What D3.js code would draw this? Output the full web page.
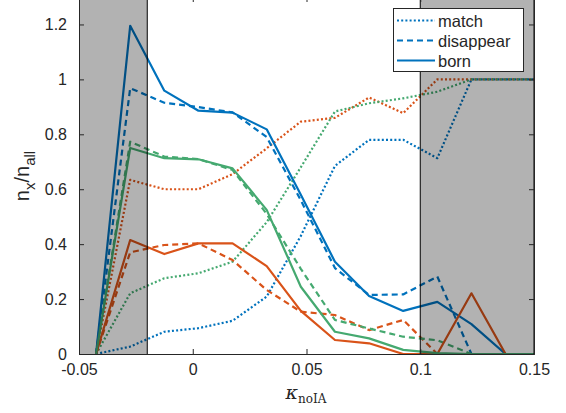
<!DOCTYPE html>
<html>
<head>
<meta charset="utf-8">
<script src="https://cdn.jsdelivr.net/npm/d3@7"></script>
<style>
body{margin:0;background:#fff}
text{font-family:"Liberation Sans",Arial,sans-serif;fill:#262626}
</style>
</head>
<body>
<div id="chart"></div>
<script>
var kappa = [-0.0425,-0.0275,-0.0125,0.0025,0.0175,0.0325,0.0475,0.0625,0.0775,0.0925,0.1075,0.1225,0.1375,0.1525]

var blueMatch       = [0,0.027,0.081,0.094,0.121,0.209,0.43,0.685,0.78,0.78,0.713,1,1,1]
var blueDisappear   = [0,0.968,0.915,0.899,0.88,0.79,0.56,0.313,0.215,0.217,0.282,0,0,0]
var blueBorn        = [0,1.195,0.959,0.886,0.879,0.818,0.58,0.336,0.211,0.157,0.19,0.109,0,0]
var orangeMatch     = [0,0.634,0.6,0.6,0.655,0.749,0.846,0.86,0.934,0.877,1,1,1,1]
var orangeDisappear = [0,0.37,0.397,0.403,0.342,0.233,0.154,0.142,0.087,0.124,0,0,0,0]
var orangeBorn      = [0,0.415,0.364,0.403,0.403,0.32,0.157,0.051,0.039,0,0,0.221,0,0]
var greenMatch      = [0,0.221,0.276,0.294,0.336,0.48,0.68,0.883,0.913,0.931,0.955,1,1,1]
var greenDisappear  = [0,0.773,0.719,0.71,0.67,0.51,0.31,0.124,0.093,0.063,0.05,0,0,0]
var greenBorn       = [0,0.75,0.713,0.709,0.676,0.525,0.245,0.081,0.057,0.015,0.003,0,0,0]

var xTicks = [-0.05,0,0.05,0.1,0.15]
var xTickLabels = ["-0.05","0","0.05","0.1","0.15"]
var yTicks = [0,0.2,0.4,0.6,0.8,1,1.2]
var yTickLabels = ["0","0.2","0.4","0.6","0.8","1","1.2"]
var shaded = [[-0.05,-0.02],[0.1,0.15]]
var legendLabels = ["match","disappear","born"]

var width = 566, height = 413
var padL = 79, padR = 534, padT = -3, padB = 354

var x = d3.scaleLinear().domain([-0.05,0.15]).range([padL,padR])
var y = d3.scaleLinear().domain([0,1.3]).range([padB,padT])

var blue = "#0072BD", orange = "#D95319", green = "#45A970"
var dash = {match:"2,2.2", disappear:"6,4", born:null}

var series = [
	{vals:blueMatch,color:blue,style:"match"},
	{vals:orangeMatch,color:orange,style:"match"},
	{vals:greenMatch,color:green,style:"match"},
	{vals:blueDisappear,color:blue,style:"disappear"},
	{vals:orangeDisappear,color:orange,style:"disappear"},
	{vals:greenDisappear,color:green,style:"disappear"},
	{vals:blueBorn,color:blue,style:"born"},
	{vals:orangeBorn,color:orange,style:"born"},
	{vals:greenBorn,color:green,style:"born"}
]

var svg = d3.select("#chart").append("svg").attr("width",width).attr("height",height)

svg.append("clipPath").attr("id","plotclip").append("rect")
	.attr("x",padL).attr("y",padT).attr("width",padR-padL).attr("height",padB-padT)

var line = d3.line().x(function(d,i){return x(kappa[i])}).y(function(d){return y(d)})

var plot = svg.append("g").attr("clip-path","url(#plotclip)")
series.forEach(function(s){
	plot.append("path")
		.attr("d",line(s.vals))
		.attr("fill","none")
		.attr("stroke",s.color)
		.attr("stroke-width",2.2)
		.attr("stroke-linejoin","round")
		.attr("stroke-dasharray",dash[s.style])
})

// grey bands drawn over the lines, like a transparent patch
shaded.forEach(function(b){
	plot.append("rect")
		.attr("x",x(b[0])).attr("y",padT)
		.attr("width",x(b[1])-x(b[0])).attr("height",padB-padT)
		.attr("fill","#000").attr("fill-opacity",0.3)
	plot.append("line").attr("x1",x(b[0])).attr("x2",x(b[0]))
		.attr("y1",padT).attr("y2",padB).attr("stroke","#000").attr("stroke-width",1)
	plot.append("line").attr("x1",x(b[1])).attr("x2",x(b[1]))
		.attr("y1",padT).attr("y2",padB).attr("stroke","#000").attr("stroke-width",1)
})

// axes, ticks inside on all four sides
var xAxis = d3.axisBottom(x).tickValues(xTicks).tickSize(-5).tickPadding(10)
	.tickFormat(function(d,i){return xTickLabels[i]})
var yAxis = d3.axisLeft(y).tickValues(yTicks).tickSize(-5).tickPadding(12)
	.tickFormat(function(d,i){return yTickLabels[i]})

svg.append("g").attr("transform","translate(0,"+padB+")").call(xAxis)
svg.append("g").attr("transform","translate("+padL+",0)").call(yAxis)
svg.append("g").attr("transform","translate(0,"+padT+")")
	.call(d3.axisTop(x).tickValues(xTicks).tickSize(-5).tickFormat(""))
svg.append("g").attr("transform","translate("+padR+",0)")
	.call(d3.axisRight(y).tickValues(yTicks).tickSize(-5).tickFormat(""))

svg.selectAll(".domain").attr("stroke","#262626").attr("stroke-width",1)
svg.selectAll(".tick line").attr("stroke","#262626")
svg.selectAll(".tick text").style("font-size","16px").attr("fill","#262626")
	.style("font-family","Liberation Sans, Arial, sans-serif")

// y label n_x / n_all
var ylab = svg.append("text")
	.attr("transform","translate(29,176) rotate(-90)")
	.attr("text-anchor","middle")
	.style("font-size","20px")
ylab.append("tspan").text("n")
ylab.append("tspan").text("x").attr("dy",6).style("font-size","15px")
ylab.append("tspan").text("/n").attr("dy",-6)
ylab.append("tspan").text("all").attr("dy",6).style("font-size","15px")

// x label kappa_noIA
var xlab = svg.append("text")
	.attr("x",306).attr("y",399)
	.attr("text-anchor","middle")
	.style("font-family","DejaVu Serif, Liberation Serif, serif")
xlab.append("tspan").text("\u03BA").style("font-style","italic").style("font-size","19px")
xlab.append("tspan").text("noIA").attr("dy",4).style("font-size","12px")

// legend
var lg = svg.append("g")
lg.append("rect").attr("x",393.5).attr("y",8.5).attr("width",130).attr("height",63)
	.attr("fill","#fff").attr("stroke","#262626").attr("stroke-width",1)
legendLabels.forEach(function(l,i){
	var ly = 20.5 + i*20
	lg.append("line").attr("x1",397).attr("x2",435).attr("y1",ly).attr("y2",ly)
		.attr("stroke",blue).attr("stroke-width",2.2).attr("stroke-dasharray",dash[l])
	lg.append("text").text(l).attr("x",438).attr("y",ly+6).style("font-size","16.5px")
})
</script>
</body>
</html>
